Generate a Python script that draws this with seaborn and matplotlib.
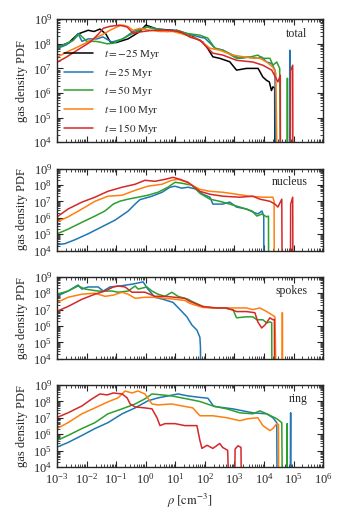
import numpy as np
import pandas as pd
import matplotlib
matplotlib.use("Agg")
import matplotlib.pyplot as plt
import seaborn as sns
from matplotlib.ticker import LogLocator, NullFormatter

# ---------------- data (log10 rho, log10 PDF); 0 marks an empty bin ----------------
labels = [r"$t = -25$ Myr", r"$t = 25$ Myr", r"$t = 50$ Myr", r"$t = 100$ Myr", r"$t = 150$ Myr"]
colors = ["black", "#1f77b4", "#2ca02c", "#ff7f0e", "#d62728"]
panel_names = ["total", "nucleus", "spokes", "ring"]

total_m25_x = [-3, -2.6, -2.29, -1.95, -1.75, -1.55, -1.35, -1.2, -1.0, -0.6, -0.2, 0.0, 0.38, 0.92, 1.3, 1.6, 1.93, 2.1, 2.27, 2.5, 2.84, 3.07, 3.41, 3.8, 3.96, 4.08, 4.18, 4.25, 4.3, 4.36, 4.37]
total_m25_y = [7.86, 8.05, 8.4, 8.55, 8.5, 8.6, 8.4, 8.07, 8.05, 8.2, 8.5, 8.76, 8.6, 8.55, 8.4, 8.28, 8.07, 7.8, 7.47, 7.41, 7.27, 6.93, 7.0, 7.0, 6.65, 6.52, 6.45, 6.1, 6.25, 6.2, 0]
total_25_x = [-3, -2.7, -2.45, -2.29, -2.16, -1.95, -1.65, -1.45, -1.15, -0.77, -0.43, 0.04, 0.4, 0.72, 1.05, 1.39, 1.83, 2.0, 2.17, 2.34, 2.61, 2.95, 3.18, 3.45, 3.79, 3.92, 4.09, 4.26, 4.37, 4.4, 4.86, 4.87, 4.88]
total_25_y = [7.81, 7.95, 8.15, 8.42, 8.1, 8.2, 8.2, 8.28, 8.07, 8.2, 8.5, 8.68, 8.6, 8.55, 8.55, 8.42, 8.27, 8.23, 8.03, 7.82, 7.74, 7.54, 7.41, 7.46, 7.41, 7.46, 7.26, 7.2, 6.93, 0, 0, 7.74, 0]
total_50_x = [-3, -2.7, -2.45, -2.25, -2.0, -1.7, -1.55, -1.31, -1.1, -0.87, -0.43, 0.04, 0.38, 0.72, 1.05, 1.39, 1.83, 2.1, 2.34, 2.61, 3.07, 3.52, 3.79, 3.96, 4.2, 4.3, 4.43, 4.53, 4.57, 4.78, 4.79, 4.8]
total_50_y = [7.87, 8.0, 8.15, 8.4, 8.1, 8.1, 8.07, 8.0, 8.02, 8.15, 8.43, 8.68, 8.6, 8.5, 8.55, 8.42, 8.35, 8.23, 7.82, 7.74, 7.41, 7.46, 7.54, 7.41, 7.41, 7.13, 7.26, 7.0, 0, 0, 6.6, 0]
total_100_x = [-3, -2.7, -2.32, -2.0, -1.78, -1.5, -1.21, -0.95, -0.77, -0.6, -0.43, -0.2, 0.14, 0.48, 0.92, 1.39, 1.83, 2.17, 2.5, 2.95, 3.52, 3.86, 4.09, 4.3, 4.4, 4.47]
total_100_y = [7.45, 7.65, 7.86, 8.05, 8.2, 8.35, 8.55, 8.7, 8.76, 8.7, 8.55, 8.63, 8.55, 8.5, 8.5, 8.35, 8.15, 7.82, 7.74, 7.54, 7.43, 7.41, 7.26, 7.05, 6.8, 0]
total_150_x = [-3, -2.7, -2.32, -1.88, -1.6, -1.44, -1.21, -0.87, -0.63, -0.43, -0.09, 0.25, 0.72, 1.16, 1.5, 1.83, 2.1, 2.27, 2.61, 3.07, 3.62, 3.96, 4.26, 4.47, 4.55, 4.56, 4.88, 4.9, 4.97, 4.98]
total_150_y = [7.25, 7.45, 7.74, 8.07, 8.4, 8.63, 8.71, 8.76, 8.68, 8.43, 8.5, 8.55, 8.55, 8.5, 8.27, 8.15, 7.82, 7.62, 7.54, 7.33, 7.26, 7.13, 6.93, 6.45, 6.72, 0, 0, 6.9, 7.13, 0]

nucleus_25_x = [-3, -2.73, -2.39, -1.95, -1.48, -1.04, -0.6, -0.35, -0.2, 0.21, 0.55, 0.82, 0.99, 1.22, 1.43, 1.73, 1.93, 2.17, 2.27, 2.6, 2.84, 3.07, 3.41, 3.62, 3.79, 3.93, 3.99, 4.0]
nucleus_25_y = [4.35, 4.42, 4.66, 5.02, 5.45, 5.85, 6.4, 6.85, 7.1, 7.31, 7.55, 7.86, 7.92, 7.8, 7.86, 7.73, 7.43, 7.25, 6.83, 6.83, 6.95, 6.65, 6.53, 6.35, 6.23, 6.41, 6.1, 0]
nucleus_50_x = [-3, -2.63, -2.16, -1.72, -1.38, -1.1, -0.87, -0.6, -0.26, 0.07, 0.41, 0.75, 0.99, 1.22, 1.56, 1.83, 2.17, 2.5, 2.84, 3.18, 3.59, 3.76, 3.93, 4.09, 4.15, 4.16]
nucleus_50_y = [5.02, 5.3, 5.72, 6.1, 6.41, 6.83, 7.01, 7.13, 7.25, 7.37, 7.55, 7.86, 8.16, 8.1, 7.98, 7.49, 7.13, 7.0, 6.83, 6.65, 6.41, 6.1, 6.23, 6.05, 6.1, 0]
nucleus_100_x = [-3, -2.63, -2.16, -1.72, -1.28, -0.8, -0.36, 0.07, 0.55, 0.88, 1.09, 1.39, 1.49, 1.83, 2.17, 2.61, 3.07, 3.52, 3.96, 4.3, 4.34, 4.35]
nucleus_100_y = [5.75, 6.05, 6.53, 7.0, 7.31, 7.37, 7.67, 7.92, 8.04, 8.28, 8.34, 8.16, 8.04, 7.73, 7.61, 7.55, 7.43, 7.31, 7.25, 7.25, 7.0, 0]
nucleus_150_x = [-3, -2.63, -2.16, -1.72, -1.28, -0.8, -0.36, -0.03, 0.31, 0.65, 0.92, 1.16, 1.43, 1.83, 2.17, 2.61, 3.18, 3.62, 3.86, 4.2, 4.37, 4.47, 4.6, 4.62, 4.89, 4.9, 4.97, 4.98]
nucleus_150_y = [6.05, 6.53, 6.95, 7.25, 7.61, 7.86, 8.04, 8.28, 8.22, 8.34, 8.46, 8.34, 8.16, 7.61, 7.43, 7.31, 7.25, 7.31, 7.13, 7.0, 6.83, 6.65, 7.13, 0, 0, 6.83, 7.25, 0]

spokes_25_x = [-3, -2.63, -2.29, -2.16, -1.95, -1.61, -1.44, -1.21, -0.87, -0.43, -0.09, 0.07, 0.31, 0.58, 0.92, 1.16, 1.39, 1.56, 1.73, 1.83, 1.85, 1.86]
spokes_25_y = [7.83, 8.13, 8.5, 8.25, 8.38, 8.38, 8.13, 8.38, 8.44, 8.56, 8.69, 8.25, 7.75, 7.63, 7.44, 7.0, 6.56, 6.06, 5.75, 5.31, 4.7, 0]
spokes_50_x = [-3, -2.63, -2.29, -2.05, -1.61, -1.14, -0.94, -0.6, -0.36, -0.26, 0.04, 0.21, 0.41, 0.65, 0.88, 1.09, 1.43, 1.49, 1.93, 2.27, 2.61, 2.95, 3.07, 3.41, 3.62, 3.76, 3.96, 4.09, 4.2, 4.26, 4.27]
spokes_50_y = [7.94, 8.13, 8.44, 8.25, 8.13, 8.13, 8.06, 8.13, 8.44, 8.25, 8.38, 8.13, 7.94, 7.81, 8.06, 7.81, 7.63, 7.56, 7.19, 7.1, 7.1, 7.0, 6.5, 6.56, 6.56, 6.38, 6.38, 6.19, 6.25, 6.2, 0]
spokes_100_x = [-3, -2.63, -2.16, -1.72, -1.38, -1.1, -0.8, -0.6, -0.36, -0.03, 0.31, 0.65, 0.99, 1.32, 1.49, 1.93, 2.27, 2.61, 3.07, 3.41, 3.62, 3.86, 4.09, 4.26, 4.37, 4.43, 4.61, 4.62, 4.63]
spokes_100_y = [7.44, 7.75, 7.94, 8.0, 7.81, 7.88, 8.06, 7.94, 7.69, 7.75, 7.75, 7.69, 7.63, 7.56, 7.38, 7.13, 7.1, 7.1, 7.1, 7.1, 7.0, 7.1, 6.88, 6.69, 6.56, 0, 0, 6.81, 0]
spokes_150_x = [-3, -2.63, -2.16, -1.72, -1.38, -1.1, -0.94, -0.7, -0.47, -0.03, 0.31, 0.65, 0.99, 1.32, 1.49, 1.93, 2.4, 2.74, 3.07, 3.41, 3.69, 3.79, 3.92, 4.03, 4.2, 4.3, 4.35, 4.36]
spokes_150_y = [6.9, 7.19, 7.63, 7.94, 8.13, 8.38, 8.44, 8.38, 8.06, 8.06, 7.81, 7.81, 7.75, 7.69, 7.5, 7.19, 7.1, 7.1, 6.88, 6.88, 6.81, 6.25, 5.88, 6.06, 6.5, 6.38, 6.4, 0]

ring_25_x = [-3, -2.63, -2.16, -1.72, -1.28, -0.8, -0.36, 0.07, 0.41, 0.75, 1.09, 1.43, 1.83, 2.1, 2.3, 2.95, 3.62, 4.09, 4.3, 4.43, 4.45, 4.88, 4.9, 4.91]
ring_25_y = [5.22, 5.5, 5.93, 6.35, 6.71, 7.25, 7.61, 8.04, 8.22, 8.34, 8.46, 8.34, 8.25, 8.2, 7.7, 7.55, 7.31, 7.25, 7.01, 6.71, 0, 0, 7.31, 0]
ring_50_x = [-3, -2.63, -2.16, -1.72, -1.28, -0.8, -0.36, -0.03, 0.21, 0.55, 0.88, 1.22, 1.56, 1.83, 2.27, 2.74, 3.18, 3.62, 3.86, 4.09, 4.43, 4.6, 4.63, 4.77, 4.78, 4.79]
ring_50_y = [5.63, 5.93, 6.35, 6.71, 7.25, 7.55, 7.85, 8.16, 8.46, 8.4, 8.34, 8.22, 8.1, 8.0, 7.73, 7.55, 7.31, 7.25, 7.43, 7.25, 6.95, 6.71, 0, 0, 6.65, 0]
ring_100_x = [-3, -2.63, -2.16, -1.72, -1.28, -0.94, -0.7, -0.47, -0.26, -0.03, 0.21, 0.41, 0.88, 1.22, 1.59, 1.83, 2.27, 2.74, 3.18, 3.45, 3.79, 3.96, 4.2, 4.3, 4.43, 4.49, 4.5]
ring_100_y = [6.35, 6.71, 7.25, 7.61, 7.98, 8.22, 8.64, 8.52, 8.64, 8.46, 7.85, 7.79, 7.85, 7.73, 7.61, 7.13, 7.13, 7.01, 6.83, 6.95, 7.01, 6.53, 6.23, 6.35, 6.65, 6.6, 0]
ring_150_x = [-3, -2.63, -2.16, -1.82, -1.55, -1.31, -1.1, -0.8, -0.63, -0.53, -0.36, -0.03, 0.21, 0.38, 0.48, 0.65, 0.99, 1.32, 1.73, 1.83, 1.9, 2.07, 2.27, 2.5, 2.6, 2.77, 2.85, 3.0, 3.02, 3.12, 3.22, 3.25]
ring_150_y = [7.03, 7.31, 7.73, 8.16, 8.46, 8.4, 8.52, 8.46, 8.22, 7.85, 7.67, 7.61, 7.55, 7.01, 6.53, 6.65, 6.65, 6.53, 6.53, 5.63, 5.14, 5.33, 5.14, 5.44, 5.2, 5.02, 0, 0, 5.1, 5.3, 5.2, 0]

panels = {
    "total": [(0, total_m25_x, total_m25_y), (1, total_25_x, total_25_y), (2, total_50_x, total_50_y),
              (3, total_100_x, total_100_y), (4, total_150_x, total_150_y)],
    "nucleus": [(1, nucleus_25_x, nucleus_25_y), (2, nucleus_50_x, nucleus_50_y),
                (3, nucleus_100_x, nucleus_100_y), (4, nucleus_150_x, nucleus_150_y)],
    "spokes": [(1, spokes_25_x, spokes_25_y), (2, spokes_50_x, spokes_50_y),
               (3, spokes_100_x, spokes_100_y), (4, spokes_150_x, spokes_150_y)],
    "ring": [(1, ring_25_x, ring_25_y), (2, ring_50_x, ring_50_y),
             (3, ring_100_x, ring_100_y), (4, ring_150_x, ring_150_y)],
}

# ---------------- style ----------------
sns.set_style("ticks")
plt.rcParams["font.family"] = ["Liberation Serif", "DejaVu Serif"]
plt.rcParams["mathtext.fontset"] = "stix"
plt.rcParams["font.size"] = 9
plt.rcParams["axes.linewidth"] = 1.0
plt.rcParams["xtick.direction"] = "in"
plt.rcParams["ytick.direction"] = "in"

fig = plt.figure(figsize=(3.46, 5.19), dpi=100)
gs = fig.add_gridspec(4, 1, height_ratios=[1.5, 1, 1, 1], left=0.165, right=0.934,
                      top=0.963, bottom=0.1, hspace=0.285)

for i, name in enumerate(panel_names):
    ax = fig.add_subplot(gs[i])
    for idx, xs, ys in panels[name]:
        df = pd.DataFrame({"rho": 10.0 ** np.array(xs), "pdf": 10.0 ** np.array(ys)})
        sns.lineplot(data=df, x="rho", y="pdf", ax=ax, color=colors[idx], lw=1.1,
                     sort=False, estimator=None, label=labels[idx] if name == "total" else None,
                     legend=False)
    ax.set_xscale("log")
    ax.set_yscale("log")
    ax.set_xlim(1e-3, 1e6)
    ax.set_ylim(1e4, 1e9)
    ax.xaxis.set_major_locator(LogLocator(base=10, numticks=20))
    ax.xaxis.set_minor_locator(LogLocator(base=10, subs=np.arange(2, 10), numticks=20))
    ax.yaxis.set_major_locator(LogLocator(base=10, numticks=20))
    ax.yaxis.set_minor_locator(LogLocator(base=10, subs=np.arange(2, 10), numticks=20))
    ax.yaxis.set_minor_formatter(NullFormatter())
    ax.xaxis.set_minor_formatter(NullFormatter())
    ax.tick_params(which="both", direction="in", top=True, right=True)
    ax.tick_params(which="major", length=4, width=0.8, labelsize=9)
    ax.tick_params(which="minor", length=2, width=0.6)
    ax.set_ylabel("gas density PDF", fontsize=9)
    ax.text(0.94, 0.83 if i > 0 else 0.88, name, transform=ax.transAxes, ha="right", va="center", fontsize=8.5)
    if i < 3:
        ax.set_xlabel("")
        ax.tick_params(labelbottom=False)
    else:
        ax.set_xlabel(r"$\rho\ [\mathrm{cm}^{-3}]$", fontsize=9)
    if name == "total":
        ax.legend(loc="lower left", frameon=False, fontsize=8, handlelength=2.6,
                  borderaxespad=0.2, labelspacing=0.42, handletextpad=1.0)

fig.savefig("out.png", dpi=100)
